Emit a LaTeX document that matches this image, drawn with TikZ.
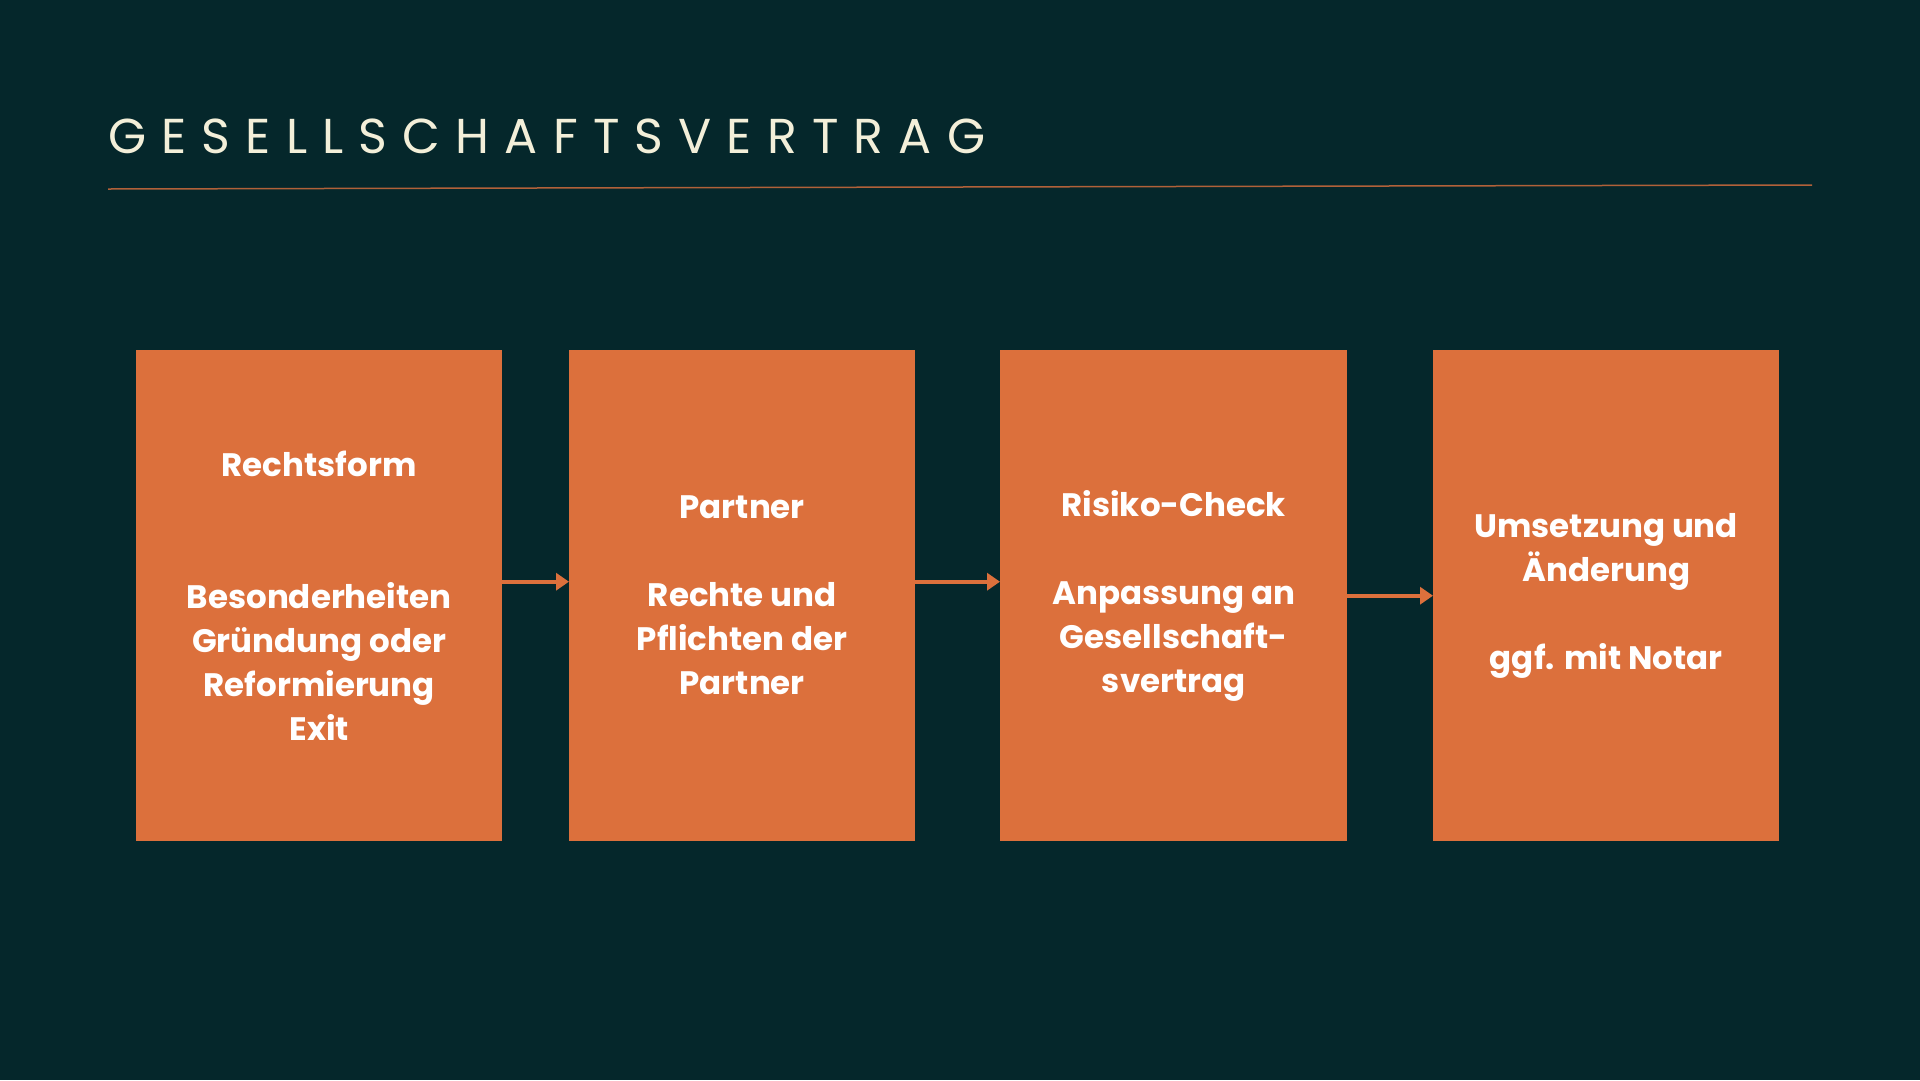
\documentclass[tikz,border=0pt]{standalone}
\usepackage{fontspec}
\setmainfont{Poppins}
\newfontfamily\titlefont[LetterSpace=31]{Poppins}
\usetikzlibrary{arrows.meta}
\usetikzlibrary{positioning}

\definecolor{bgdark}{HTML}{05272B}
\definecolor{boxorange}{HTML}{DC703C}
\definecolor{titlecream}{HTML}{F3EFD9}

\tikzset{
  stepbox/.style={fill=boxorange, text=white, anchor=north west, inner sep=0pt,
    minimum height=491pt, align=center, font=\fontsize{32.5}{44}\selectfont\bfseries},
  flow/.style={draw=boxorange, line width=4pt, -{Triangle[length=13pt,width=17pt]}}
}

\begin{document}
\begin{tikzpicture}[x=1pt,y=-1pt]
  % background and page size
  \fill[bgdark] (0,0) rectangle (1920,1080);
  \useasboundingbox (0,0) rectangle (1920,1080);

  % title with rule
  \node (title) [anchor=base west, inner sep=0pt, text=titlecream,
    font=\titlefont\fontsize{49}{56}\selectfont] at (108,153) {GESELLSCHAFTSVERTRAG};
  \draw[boxorange!80!bgdark, line width=1.5pt] (108,189) -- (1812,185);

  % the four steps
  \node (rechtsform) [stepbox, minimum width=366pt] at (136,350)
    {Rechtsform\\[88pt]Besonderheiten\\Gründung oder\\Reformierung\\Exit};
  \node (partner) [stepbox, minimum width=346pt] at (569,350)
    {Partner\\[44pt]Rechte und\\Pflichten der\\Partner};
  \node (risiko) [stepbox, minimum width=347pt] at (1000,350)
    {Risiko-Check\\[44pt]Anpassung an\\Gesellschaft-\\svertrag};
  \node (umsetzung) [stepbox, minimum width=346pt] at (1433,350)
    {Umsetzung und\\Änderung\\[44pt]ggf. mit Notar};

  % arrows between steps
  \draw[flow] ([yshift=14pt]rechtsform.east) -- ([yshift=14pt]partner.west);
  \draw[flow] ([yshift=14pt]partner.east) -- ([yshift=14pt]risiko.west);
  \draw[flow] (risiko.east) -- (umsetzung.west);

\end{tikzpicture}
\end{document}
